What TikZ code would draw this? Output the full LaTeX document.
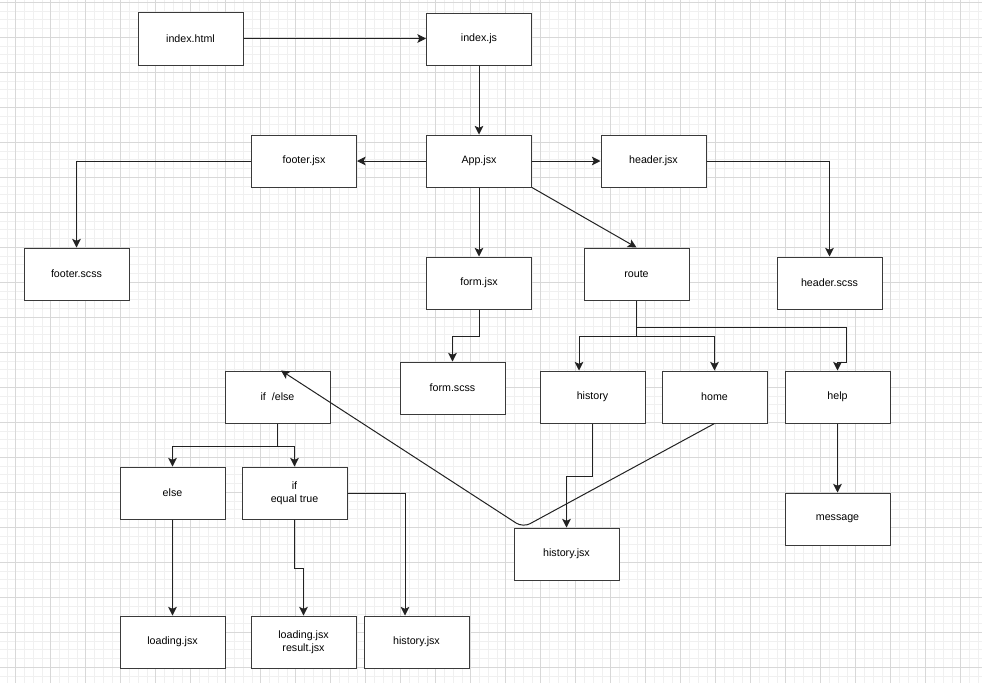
\documentclass[tikz,border=0pt]{standalone}
\usepackage{fontspec}
\setmainfont{Liberation Sans}
\usetikzlibrary{arrows.meta}
\definecolor{gridmajor}{HTML}{D8D8D8}
\definecolor{gridminor}{HTML}{F0F0F0}
\definecolor{boxline}{HTML}{3A3A3A}
\definecolor{edgeline}{HTML}{222222}
\tikzset{
  box/.style={draw=boxline, line width=0.75pt, fill=white, rectangle,
    minimum width=78.75pt, minimum height=39pt, inner sep=0pt,
    align=center, font=\fontsize{8}{9.75}\selectfont},
  arr/.style={draw=edgeline, line width=0.75pt,
    -{Stealth[length=6.5pt,width=6.5pt,inset=1.5pt]}},
  minorline/.style={draw=gridminor, line width=0.6pt},
  majorline/.style={draw=gridmajor, line width=0.75pt}
}
\begin{document}
\begin{tikzpicture}[x=0.75pt,y=-0.75pt]
\useasboundingbox (0,0) rectangle (982,683);
\fill[white] (0,0) rectangle (982,683);
\begin{scope}
\clip (0,0) rectangle (982,683);
\foreach \i in {0,...,112} {\draw[minorline] ({6.95+\i*8.75},0) -- ({6.95+\i*8.75},683);}
\foreach \i in {0,...,78} {\draw[minorline] (0,{2.3+\i*8.75}) -- (982,{2.3+\i*8.75});}
\foreach \i in {0,...,28} {\draw[majorline] ({15.7+\i*35},0) -- ({15.7+\i*35},683);}
\foreach \i in {0,...,19} {\draw[majorline] (0,{2.3+\i*35}) -- (982,{2.3+\i*35});}
\end{scope}

% nodes
\node[box, minimum height=39.75pt] (html) at (190.5,38.5) {index.html};
\node[box] (js) at (479,39) {index.js};
\node[box] (app) at (479,161) {App.jsx};
\node[box] (footer) at (304,161) {footer.jsx};
\node[box] (header) at (653.5,161) {header.jsx};
\node[box] (fscss) at (76.5,274) {footer.scss};
\node[box] (form) at (479,283) {form.jsx};
\node[box] (route) at (636.5,274) {route};
\node[box] (hscss) at (829.5,283) {header.scss};
\node[box] (formscss) at (452.5,388) {form.scss};
\node[box] (ifelse) at (277.5,397) {if\ \ /else};
\node[box] (history) at (592.5,397) {history};
\node[box] (home) at (714.5,397) {home};
\node[box] (help) at (837.5,397) {help};
\node[box] (else) at (172.5,493) {else};
\node[box] (ifeq) at (294.5,493) {if\\equal true};
\node[box] (message) at (837.5,519) {message};
\node[box] (hjsx) at (566.5,554) {history.jsx};
\node[box] (loading) at (172.5,642) {loading.jsx};
\node[box] (loadres) at (303.5,642) {loading.jsx\\result.jsx};
\node[box] (hjsxb) at (416.5,642) {history.jsx};

% connectors
\draw[arr] (html.east) -- (html.east -| js.west);
\draw[arr] (js.south) -- (app.north);
\draw[arr] (app.west) -- (footer.east);
\draw[arr] (app.east) -- (header.west);
\draw[arr] (footer.west) -| (fscss.north);
\draw[arr] (header.east) -| (hscss.north);
\draw[arr] (app.south) -- (form.north);
\draw[arr] (app.south east) -- (route.north);
\draw[arr] (form.south) -- (form.south |- 0,336) -| (formscss.north);
\draw[arr] (route.south) -- (route.south |- 0,336) -| (579,0 |- history.north);
\draw[arr] (route.south |- 0,336) -| (home.north);
\draw[arr] (route.south |- 0,327) -| (846,362) -| (help.north);
\draw[arr] (help.south) -- (message.north);
\draw[arr] (history.south) -- (history.south |- 0,476) -| (hjsx.north);
\draw[arr, rounded corners=6pt] (home.south) -- (523,527.5) -- (281,0 |- ifelse.north);
\draw[arr] (ifelse.south) -- (ifelse.south |- 0,446) -| (else.north);
\draw[arr] (ifelse.south |- 0,446) -| (ifeq.north);
\draw[arr] (else.south) -- (loading.north);
\draw[arr] (ifeq.south) -- (ifeq.south |- 0,568) -| (loadres.north);
\draw[arr] (ifeq.east) -| (405,0 |- hjsxb.north);
\end{tikzpicture}
\end{document}
